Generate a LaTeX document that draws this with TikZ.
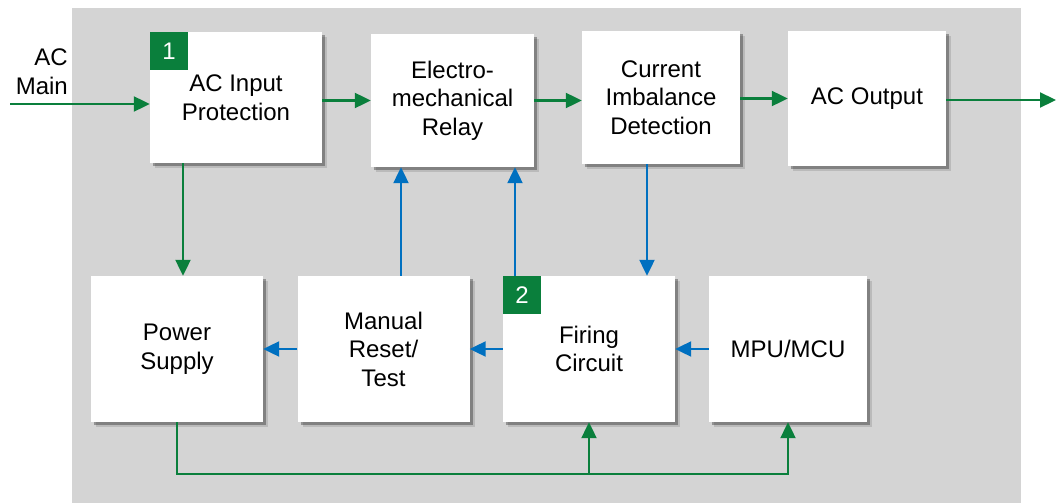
\documentclass[tikz,border=0pt]{standalone}
\usepackage{fontspec}
\setmainfont{Liberation Sans}
\usetikzlibrary{shadows,arrows.meta}

\definecolor{ugreen}{HTML}{0A7F3C}
\definecolor{ublue}{HTML}{0070C0}
\definecolor{panel}{HTML}{D4D4D4}

\begin{document}
\begin{tikzpicture}[
        x=1pt, y=-1pt,
        block/.style={fill=white, align=center, inner sep=0pt,
            font=\fontsize{24}{28.5}\selectfont,
            drop shadow={shadow xshift=5pt, shadow yshift=-5pt, fill=black, opacity=0.12},
            drop shadow={shadow xshift=3pt, shadow yshift=-3pt, fill=black, opacity=0.3}},
        badge/.style={fill=ugreen, text=white, minimum size=38pt, inner sep=0pt,
            anchor=north west, font=\fontsize{24}{28}\selectfont},
        garrow/.style={draw=ugreen, line width=2.2pt, -{Triangle[length=16pt,width=15pt]}},
        barrow/.style={draw=ublue, line width=2.2pt, -{Triangle[length=16pt,width=15pt]}}
        ]
        \useasboundingbox (0,0) rectangle (1057,503);
        \fill[panel] (72,8) rectangle (1021,503);

        % top row
        \node[block, minimum width=172pt, minimum height=131pt] (inprot) at (236,97.5) {AC Input\\Protection};
        \node[block, minimum width=163pt, minimum height=133pt] (relay) at (452.5,100.5) {Electro-\\mechanical\\Relay};
        \node[block, minimum width=158pt, minimum height=133pt] (detect) at (661,97.5) {Current\\Imbalance\\Detection};
        \node[block, minimum width=158pt, minimum height=135pt] (acout) at (867,98.5) {AC Output};

        % bottom row
        \node[block, minimum width=172pt, minimum height=146pt] (power) at (177,349) {Power\\Supply};
        \node[block, minimum width=172pt, minimum height=146pt] (manual) at (383.5,349) {Manual\\Reset/\\Test};
        \node[block, minimum width=172pt, minimum height=146pt] (firing) at (589,349) {Firing\\Circuit};
        \node[block, minimum width=158pt, minimum height=146pt] (mpu) at (788,349) {MPU/MCU};

        \node[badge] (b1) at (inprot.north west) {1};
        \node[badge] (b2) at (firing.north west) {2};

        \node[align=right, anchor=east, inner sep=0pt, font=\fontsize{24}{29}\selectfont] (acmain) at (68,72) {AC\\Main};

        % power path
        \coordinate (src) at (10,104);
        \coordinate (out) at (1056,100);
        \draw[garrow] (src) -- (src -| inprot.west);
        \draw[garrow] (inprot.east |- relay) -- (relay.west);
        \draw[garrow] (relay.east) -- (relay.east -| detect.west);
        \draw[garrow] (detect.east |- acout) -- (acout.west);
        \draw[garrow] (acout.east |- out) -- (out);

        % vertical links
        \coordinate (xps) at (183,0);
        \coordinate (xmr) at (401,0);
        \coordinate (xfr) at (515,0);
        \coordinate (xfc) at (647,0);
        \draw[garrow] (inprot.south -| xps) -- (power.north -| xps);
        \draw[barrow] (detect.south -| xfc) -- (firing.north -| xfc);
        \draw[barrow] (manual.north -| xmr) -- (relay.south -| xmr);
        \draw[barrow] (firing.north -| xfr) -- (relay.south -| xfr);

        % control links
        \draw[barrow] (manual.west) -- (power.east);
        \draw[barrow] (firing.west) -- (manual.east);
        \draw[barrow] (mpu.west) -- (firing.east);

        % supply bus
        \coordinate (bus) at (0,474);
        \draw[garrow] (power.south) -- (power.south |- bus) -- (mpu.south |- bus) -- (mpu.south);
        \draw[garrow] (firing.south |- bus) -- (firing.south);
\end{tikzpicture}
\end{document}
